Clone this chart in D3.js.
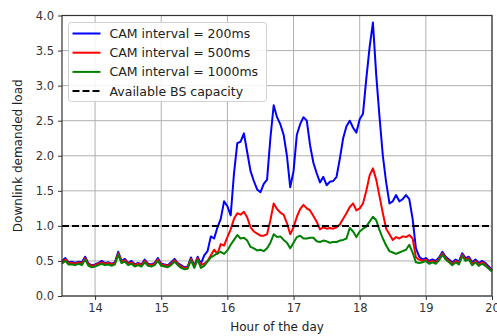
<!DOCTYPE html>
<html>
<head>
<meta charset="utf-8">
<script src="https://cdn.jsdelivr.net/npm/d3@7"></script>
<style>
  body { margin: 0; background: #fff; }
  text { font-family: "DejaVu Sans", sans-serif; }
</style>
</head>
<body>
<div id="chart"></div>
<script>
// hour of the day (3-minute samples)
const hours = [
  13.50,13.55,13.60,13.65,13.70,13.75,13.80,13.85,13.90,13.95,
  14.00,14.05,14.10,14.15,14.20,14.25,14.30,14.35,14.40,14.45,
  14.50,14.55,14.60,14.65,14.70,14.75,14.80,14.85,14.90,14.95,
  15.00,15.05,15.10,15.15,15.20,15.25,15.30,15.35,15.40,15.45,
  15.50,15.55,15.60,15.65,15.70,15.75,15.80,15.85,15.90,15.95,
  16.00,16.05,16.10,16.15,16.20,16.25,16.30,16.35,16.40,16.45,
  16.50,16.55,16.60,16.65,16.70,16.75,16.80,16.85,16.90,16.95,
  17.00,17.05,17.10,17.15,17.20,17.25,17.30,17.35,17.40,17.45,
  17.50,17.55,17.60,17.65,17.70,17.75,17.80,17.85,17.90,17.95,
  18.00,18.05,18.10,18.15,18.20,18.25,18.30,18.35,18.40,18.45,
  18.50,18.55,18.60,18.65,18.70,18.75,18.80,18.85,18.90,18.95,
  19.00,19.05,19.10,19.15,19.20,19.25,19.30,19.35,19.40,19.45,
  19.50,19.55,19.60,19.65,19.70,19.75,19.80,19.85,19.90,19.95,
  20.00
];

const cam200 = [
  0.50,0.54,0.48,0.49,0.47,0.49,0.48,0.56,0.46,0.44,
  0.45,0.47,0.50,0.47,0.48,0.46,0.48,0.63,0.50,0.53,
  0.47,0.50,0.45,0.47,0.45,0.52,0.46,0.45,0.47,0.54,
  0.46,0.45,0.44,0.48,0.53,0.47,0.44,0.41,0.42,0.55,
  0.43,0.56,
  0.46,0.58,0.64,0.85,0.82,0.98,1.10,1.35,
  1.28,1.15,1.75,2.18,2.20,2.32,2.05,1.78,1.64,1.52,
  1.48,1.60,1.66,2.25,2.72,2.55,2.45,2.30,2.00,1.55,
  1.78,2.30,2.45,2.55,2.50,2.15,1.90,1.75,1.62,1.70,
  1.58,1.63,1.64,1.70,1.96,2.25,2.42,2.50,2.40,2.33,
  2.52,2.60,3.10,3.55,3.90,3.15,2.55,2.00,1.62,1.32,
  1.35,1.44,1.35,1.38,1.44,1.38,1.10,0.68,0.56,
  0.52,0.54,0.50,0.52,0.50,0.55,0.63,0.56,0.52,0.48,
  0.52,0.49,0.61,0.54,0.56,0.48,0.52,0.47,0.50,0.47,
  0.42,0.37
];

const cam500 = [
  0.48,0.52,0.47,0.47,0.46,0.48,0.46,0.54,0.45,0.43,
  0.44,0.46,0.48,0.46,0.47,0.45,0.47,0.61,0.49,0.51,
  0.46,0.48,0.44,0.46,0.44,0.50,0.45,0.44,0.46,0.52,
  0.45,0.44,0.43,0.46,0.51,0.46,0.42,0.40,0.41,0.53,
  0.42,0.54,
  0.44,0.46,0.50,0.58,0.66,0.60,0.74,0.72,
  0.84,0.95,1.10,1.18,1.16,1.20,1.12,0.98,0.92,0.89,
  0.86,0.86,0.88,1.08,1.32,1.24,1.19,1.16,1.04,0.88,
  0.98,1.13,1.24,1.30,1.25,1.22,1.14,1.06,0.95,0.98,
  0.96,0.97,0.96,0.98,1.02,1.10,1.18,1.27,1.32,1.22,
  1.25,1.32,1.50,1.72,1.82,1.66,1.42,1.18,0.96,0.88,
  0.80,0.84,0.82,0.85,0.84,0.87,0.82,0.55,0.52,
  0.50,0.52,0.48,0.50,0.48,0.53,0.61,0.54,0.50,0.46,
  0.50,0.47,0.59,0.52,0.54,0.46,0.50,0.45,0.48,0.45,
  0.40,0.36
];

const cam1000 = [
  0.46,0.50,0.45,0.45,0.44,0.46,0.44,0.52,0.43,0.41,
  0.42,0.44,0.46,0.44,0.45,0.43,0.45,0.59,0.47,0.49,
  0.44,0.46,0.42,0.44,0.42,0.48,0.43,0.42,0.44,0.50,
  0.43,0.42,0.41,0.44,0.49,0.44,0.40,0.38,0.39,0.51,
  0.40,0.52,
  0.40,0.43,0.49,0.55,0.58,0.61,0.63,0.60,
  0.65,0.73,0.80,0.87,0.82,0.83,0.79,0.70,0.68,0.65,
  0.66,0.64,0.68,0.76,0.88,0.84,0.85,0.80,0.76,0.68,
  0.76,0.84,0.86,0.82,0.82,0.83,0.83,0.78,0.77,0.79,
  0.78,0.76,0.77,0.77,0.79,0.80,0.82,0.97,0.92,0.84,
  0.92,0.96,0.99,1.06,1.13,1.08,0.94,0.82,0.72,0.64,
  0.62,0.60,0.62,0.64,0.66,0.73,0.62,0.48,0.47,
  0.48,0.50,0.46,0.48,0.46,0.51,0.59,0.52,0.48,0.44,
  0.48,0.45,0.57,0.50,0.52,0.44,0.48,0.43,0.46,0.43,
  0.39,0.35
];

const capacity = 1.0;
const xTicks = [14, 15, 16, 17, 18, 19, 20];
const yTicks = [0, 0.5, 1, 1.5, 2, 2.5, 3, 3.5, 4];

const seriesNames = ["CAM interval = 200ms", "CAM interval = 500ms", "CAM interval = 1000ms"];
const seriesColors = ["#0000ff", "#ff0000", "#008000"];
const seriesValues = [cam200, cam500, cam1000];

function makeChart() {
  let svgWidth = 497;
  let svgHeight = 336;
  let margin = { top: 15.5, right: 5, bottom: 40, left: 62 };
  let w = svgWidth - margin.left - margin.right;
  let h = svgHeight - margin.top - margin.bottom;

  let svg = d3.select("#chart")
    .append("svg")
    .attr("width", svgWidth)
    .attr("height", svgHeight);

  let chartGroup = svg.append("g")
    .attr("transform", `translate(${margin.left}, ${margin.top})`);

  let x = d3.scaleLinear().domain([13.5, 20]).range([0, w]);
  let y = d3.scaleLinear().domain([0, 4]).range([h, 0]);

  // grid
  chartGroup.append("g")
    .selectAll("line.vx")
    .data(xTicks)
    .enter()
    .append("line")
    .attr("x1", d => x(d)).attr("x2", d => x(d))
    .attr("y1", 0).attr("y2", h)
    .attr("stroke", "#b0b0b0").attr("stroke-width", 1);
  chartGroup.append("g")
    .selectAll("line.hy")
    .data(yTicks)
    .enter()
    .append("line")
    .attr("x1", 0).attr("x2", w)
    .attr("y1", d => y(d)).attr("y2", d => y(d))
    .attr("stroke", "#b0b0b0").attr("stroke-width", 1);

  // axes
  let xAxis = d3.axisBottom(x).tickValues(xTicks).tickFormat(d3.format("d")).tickSizeOuter(0).tickSize(4).tickPadding(4);
  let yAxis = d3.axisLeft(y).tickValues(yTicks).tickFormat(d3.format(".1f")).tickSizeOuter(0).tickSize(4).tickPadding(4);

  let gx = chartGroup.append("g")
    .attr("transform", `translate(0, ${h})`)
    .call(xAxis);
  let gy = chartGroup.append("g").call(yAxis);
  [gx, gy].forEach(g => {
    g.select(".domain").remove();
    g.selectAll("line").attr("stroke", "#333");
    g.selectAll("text").attr("font-size", "11.5px").attr("fill", "#333")
      .attr("font-family", "DejaVu Sans, sans-serif");
  });

  // lines
  let line = d3.line()
    .x((d, i) => x(hours[i]))
    .y(d => y(d));

  seriesValues.forEach((vals, k) => {
    chartGroup.append("path")
      .datum(vals)
      .attr("d", line)
      .attr("fill", "none")
      .attr("stroke", seriesColors[k])
      .attr("stroke-width", 2)
      .attr("stroke-linejoin", "round");
  });

  chartGroup.append("line")
    .attr("x1", x(13.5)).attr("x2", x(20))
    .attr("y1", y(capacity)).attr("y2", y(capacity))
    .attr("stroke", "#000").attr("stroke-width", 2)
    .attr("stroke-dasharray", "7,3");

  // frame
  chartGroup.append("rect")
    .attr("x", 0).attr("y", 0).attr("width", w).attr("height", h)
    .attr("fill", "none").attr("stroke", "#333").attr("stroke-width", 1.2);

  // legend
  let legend = chartGroup.append("g").attr("transform", "translate(6.5, 7)");
  legend.append("rect")
    .attr("width", 198).attr("height", 79)
    .attr("rx", 3)
    .attr("fill", "#fff").attr("fill-opacity", 0.85)
    .attr("stroke", "#d0d0d0");
  let items = seriesNames.map((n, i) => ({ name: n, color: seriesColors[i], dash: null }));
  items.push({ name: "Available BS capacity", color: "#000", dash: "7,3" });
  items.forEach((it, i) => {
    let yy = 11 + i * 19.2;
    legend.append("line")
      .attr("x1", 4).attr("x2", 32)
      .attr("y1", yy).attr("y2", yy)
      .attr("stroke", it.color).attr("stroke-width", 2)
      .attr("stroke-dasharray", it.dash);
    legend.append("text")
      .attr("x", 41).attr("y", yy + 4.4)
      .attr("font-size", "12.5px").attr("fill", "#222")
      .text(it.name);
  });

  // axis labels
  chartGroup.append("text")
    .attr("transform", `translate(${w / 2}, ${h + 35})`)
    .attr("text-anchor", "middle")
    .attr("font-size", "12px").attr("fill", "#222")
    .text("Hour of the day");

  chartGroup.append("text")
    .attr("transform", `translate(-40, ${h / 2}) rotate(-90)`)
    .attr("text-anchor", "middle")
    .attr("font-size", "12px").attr("fill", "#222")
    .text("Downlink demanded load");
}

makeChart();
</script>
</body>
</html>
